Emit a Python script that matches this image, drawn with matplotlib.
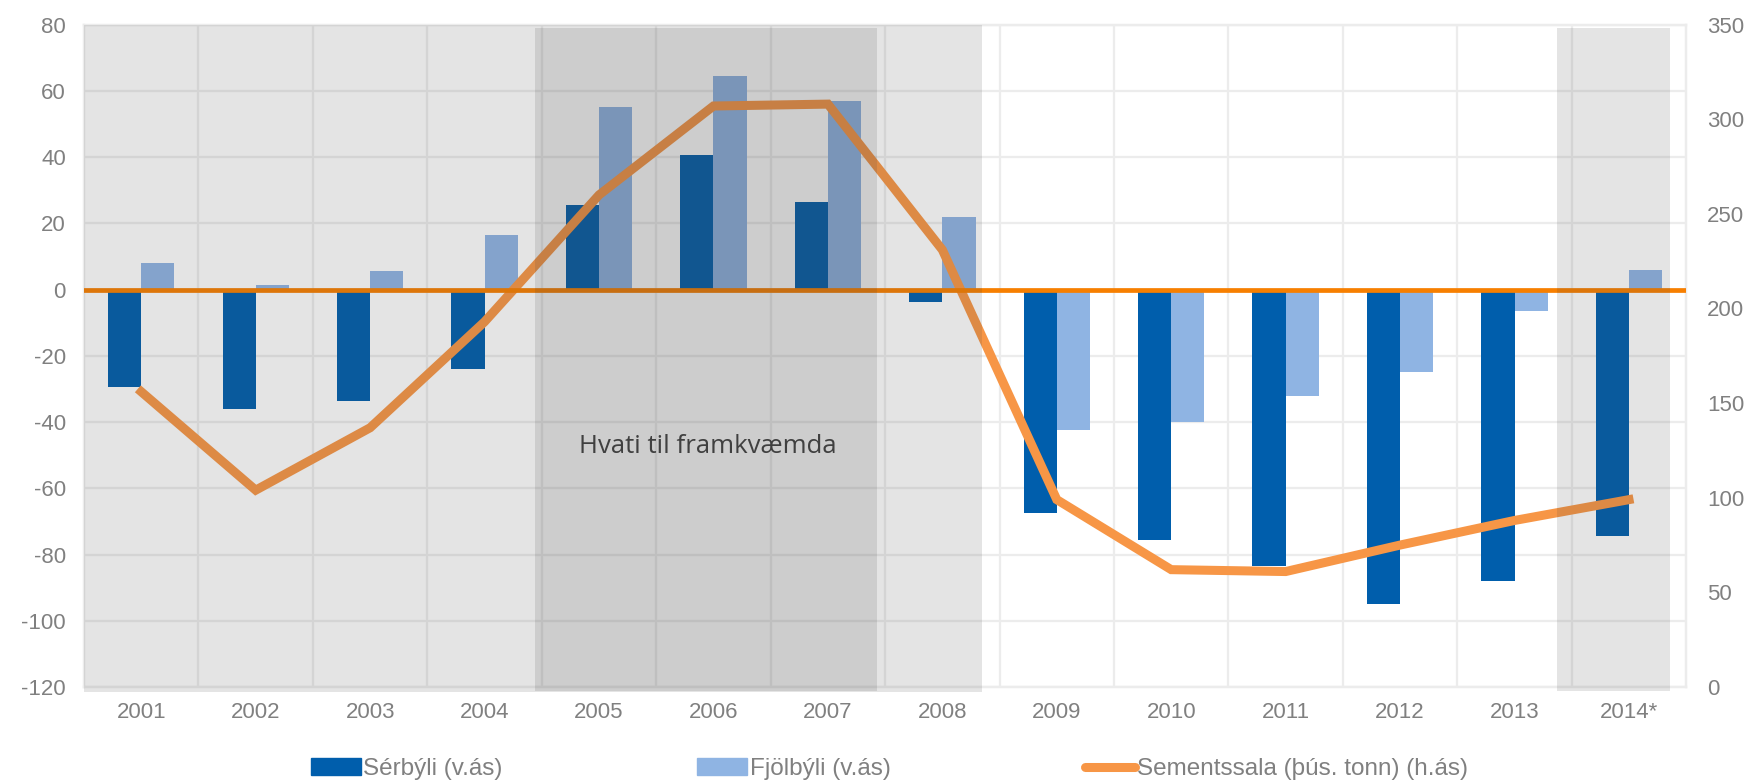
import numpy as np
import matplotlib
matplotlib.use('Agg')
import matplotlib.pyplot as plt
from matplotlib.transforms import blended_transform_factory
from matplotlib.patches import Patch
from matplotlib.lines import Line2D

plt.rcParams['font.family'] = ['Liberation Sans', 'DejaVu Sans']
plt.rcParams['axes.unicode_minus'] = False

#Data
years = ['2001', '2002', '2003', '2004', '2005', '2006', '2007',
         '2008', '2009', '2010', '2011', '2012', '2013', '2014*']
serbyli = [-29.5, -36, -33.5, -24, 25.5, 40.5, 26.5,
           -3.8, -67.5, -75.5, -83.5, -95, -88, -74.5]
fjolbyli = [8, 1.5, 5.5, 16.5, 55, 64.5, 57,
            22, -42.5, -40, -32, -25, -6.5, 6]
sementssala = [156, 104, 137, 193, 260, 307, 308,
               231, 99, 62, 61, 75, 88, 99]

grey_txt = '#808080'
grid_col = '#ececec'

fig = plt.figure(figsize=(17.51, 7.82), dpi=100)
ax = fig.add_axes([0.048, 0.1215, 0.915, 0.847])
ax2 = ax.twinx()

x = np.arange(len(years))
w = 0.29
ax.bar(x - w / 2, serbyli, w, color='#005eac', zorder=2)
ax.bar(x + w / 2, fjolbyli, w, color='#8fb4e3', zorder=2)

ax.set_ylim(-120, 80)
ax.set_yticks(np.arange(-120, 81, 20))
ax.set_xlim(-0.5, len(years) - 0.5)
ax.set_xticks(x)
ax.set_xticklabels(years)
ax.set_xticks(x[:-1] + 0.5, minor=True)
ax.grid(axis='y', color=grid_col, lw=1.6, zorder=0)
ax.grid(axis='x', which='minor', color=grid_col, lw=1.6, zorder=0)
ax.set_axisbelow(True)

ax2.plot(x, sementssala, color='#f79646', lw=6.5, solid_joinstyle='miter', zorder=3)
ax2.set_ylim(0, 350)
ax2.set_yticks(np.arange(0, 351, 50))

# zero line on left axis, drawn above the cement line
tr = blended_transform_factory(ax2.transAxes, ax.transData)
ax2.plot([0, 1], [0, 0], color='#f77f00', lw=3.4, transform=tr, zorder=4)

# shaded periods
ov = dict(color='#424242', alpha=0.14, lw=0, zorder=5, clip_on=False)
ax2.axvspan(-0.5, 7.35, ymin=-0.008, ymax=1.0, **ov)
ax2.axvspan(3.44, 6.43, ymin=-0.006, ymax=0.995, **ov)
ax2.axvspan(12.37, 13.36, ymin=-0.006, ymax=0.995, **ov)

ax.text(4.95, -47.5, 'Hvati til framkvæmda', ha='center', va='center',
        fontsize=18.5, color='#404040', family=['Open Sans', 'DejaVu Sans'], zorder=6)

for a in (ax, ax2):
    for s in a.spines.values():
        s.set_color(grid_col)
        s.set_linewidth(1.6)
ax.tick_params(axis='both', which='both', length=0, colors=grey_txt, labelsize=16)
ax.tick_params(axis='y', pad=13)
ax.tick_params(axis='x', pad=11)
ax2.tick_params(axis='y', length=0, colors=grey_txt, labelsize=16, pad=15)

# legend
handles = [Patch(color='#005eac'), Patch(color='#8fb4e3'),
           Line2D([], [], color='#f79646', lw=6.5, solid_capstyle='round')]
labels = ['Sérbýli (v.ás)', 'Fjölbýli (v.ás)', 'Sementssala (þús. tonn) (h.ás)']
fig.legend(handles, labels, loc='center', bbox_to_anchor=(0.508, 0.016), ncol=3,
           frameon=False, fontsize=17.5, labelcolor=grey_txt, handlelength=2.06,
           handletextpad=0.1, columnspacing=8.0)

fig.savefig('out.png', dpi=100)
